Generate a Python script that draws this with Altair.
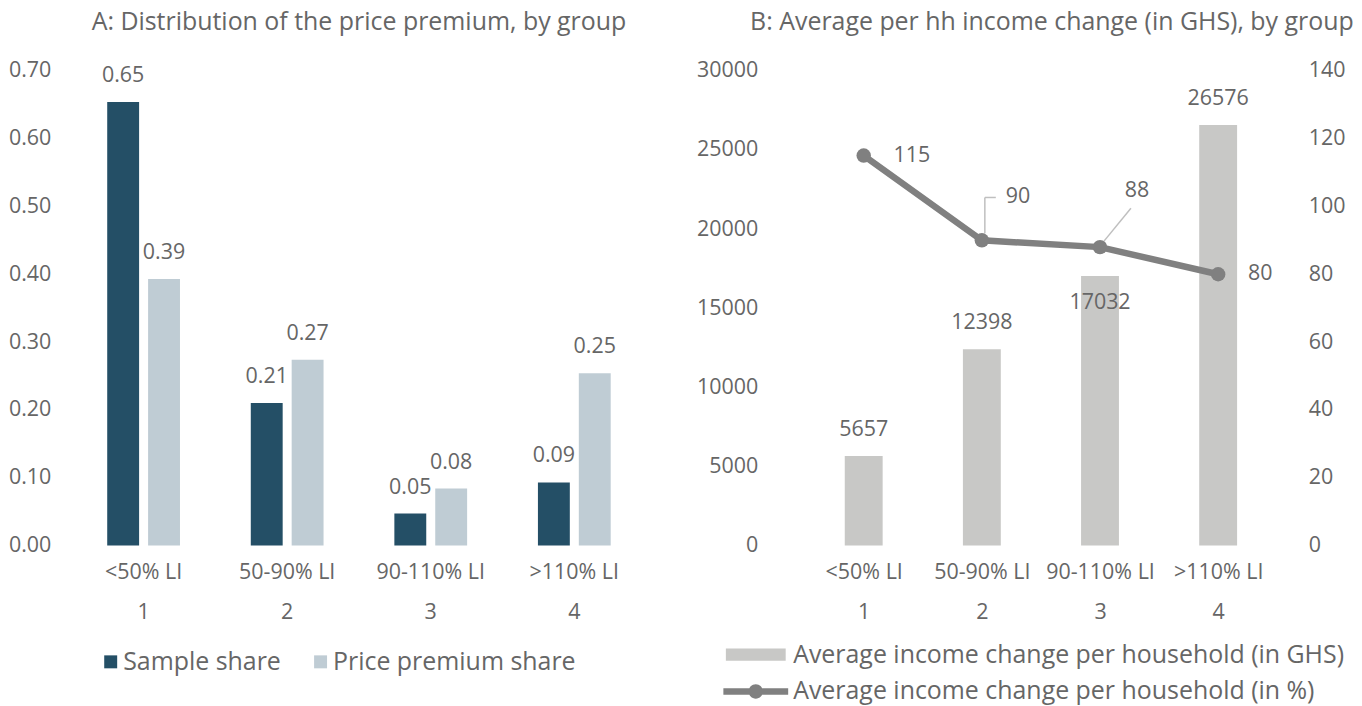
import altair as alt
import pandas as pd

FONT = "Open Sans"
TEXT = "#666666"
DARK = "#244F66"
LIGHT = "#BFCCD4"
BAR_GRAY = "#C8C8C6"
LINE_GRAY = "#808080"
FS = 21.5

# ---------------- data ----------------
groups = ["1", "2", "3", "4"]
group_nums = [1, 2, 3, 4]
group_names = ["<50% LI", "50-90% LI", "90-110% LI", ">110% LI"]

series_a = ["Sample share", "Price premium share"]
sample_share = [0.654, 0.210, 0.047, 0.093]
premium_share = [0.393, 0.274, 0.084, 0.254]

series_b = ["Average income change per household (in GHS)",
            "Average income change per household (in %)"]
income_ghs = [5657, 12398, 17032, 26576]
income_pct = [115, 90, 88, 80]

ticks_a = [0, 0.1, 0.2, 0.3, 0.4, 0.5, 0.6, 0.7]
ticks_b_left = [0, 5000, 10000, 15000, 20000, 25000, 30000]
ticks_b_right = [0, 20, 40, 60, 80, 100, 120, 140]

title_a = "A: Distribution of the price premium, by group"
title_b = "B: Average per hh income change (in GHS), by group"

df_a = pd.DataFrame({
    "group": groups * 2,
    "series": [series_a[0]] * 4 + [series_a[1]] * 4,
    "value": sample_share + premium_share,
})
df_bar = pd.DataFrame({"x": group_nums, "ghs": income_ghs, "series": series_b[0]})
df_line = pd.DataFrame({"x": group_nums, "pct": income_pct, "series": series_b[1]})

label_expr = " : ".join(
    f"datum.label == '{g}' ? ['{n}', '{g}']" for g, n in zip(groups, group_names)
) + " : datum.label"

square_path = "M-1.625,-1.625L1.625,-1.625L1.625,1.625L-1.625,1.625Z"
rect_path = "M-3,-0.62L3,-0.62L3,0.62L-3,0.62Z"
line_path = ("M-3.25,-0.32L3.25,-0.32L3.25,0.32L-3.25,0.32Z "
             "M0.72,0A0.72,0.72 0 1,1 -0.72,0A0.72,0.72 0 1,1 0.72,0Z")

# ---------------- panel A ----------------
xA = alt.X("group:N", sort=groups, scale=alt.Scale(paddingInner=0, paddingOuter=0),
           axis=alt.Axis(title=None, labelExpr=label_expr, labelAngle=0, labelPadding=16,
                         labelLineHeight=40, labelBaseline="top"))
xoffA = alt.XOffset("series:N", sort=series_a,
                    scale=alt.Scale(paddingInner=0.22, paddingOuter=0.866))
yA = alt.Y("value:Q", scale=alt.Scale(domain=[0, 0.7], nice=False),
           axis=alt.Axis(title=None, values=ticks_a, format=".2f", labelPadding=21))
colorA = alt.Color("series:N", sort=series_a,
                   scale=alt.Scale(domain=series_a, range=[DARK, LIGHT]),
                   legend=alt.Legend(title=None, orient="none", legendX=26.5, legendY=580,
                                     direction="horizontal", columns=2,
                                     symbolType=square_path, symbolSize=64,
                                     symbolStrokeWidth=0, labelOffset=0,
                                     columnPadding=26.5))

barsA = alt.Chart(df_a).mark_bar().encode(x=xA, xOffset=xoffA, y=yA, color=colorA)
textA = alt.Chart(df_a).mark_text(baseline="middle", dy=-26, fontSize=FS, font=FONT,
                                  color=TEXT).encode(
    x=xA, xOffset=xoffA, y=yA, text=alt.Text("value:Q", format=".2f"))

panelA = alt.layer(barsA, textA).properties(
    width=576, height=476,
    title=alt.TitleParams(title_a, frame="group", anchor="middle", offset=25))

# ---------------- panel B ----------------
xB = alt.X("x:Q", scale=alt.Scale(domain=[0.5, 4.5], nice=False, zero=False),
           axis=alt.Axis(title=None, values=group_nums, format="d", labelExpr=label_expr,
                         labelAngle=0, labelPadding=16, labelLineHeight=40,
                         labelBaseline="top"))
yBar = alt.Y("ghs:Q", scale=alt.Scale(domain=[0, 30000], nice=False),
             axis=alt.Axis(title=None, values=ticks_b_left, format="d", labelPadding=42,
                           orient="left"))
yLine = alt.Y("pct:Q", scale=alt.Scale(domain=[0, 140], nice=False),
              axis=alt.Axis(title=None, values=ticks_b_right, format="d", labelPadding=26,
                            orient="right"))

barsB = alt.Chart(df_bar).mark_bar(width=38).encode(
    x=xB, y=yBar,
    color=alt.Color("series:N", scale=alt.Scale(domain=[series_b[0]], range=[BAR_GRAY]),
                    legend=alt.Legend(title=None, orient="none", legendX=-56.5, legendY=573,
                                      symbolType=rect_path, symbolSize=400,
                                      symbolStrokeWidth=0, labelOffset=25)))
bar_lbl_above = alt.Chart(df_bar).transform_filter("datum.x != 3").mark_text(
    baseline="middle", dy=-26, fontSize=FS, font=FONT, color=TEXT).encode(
    x=xB, y=yBar, text=alt.Text("ghs:Q", format="d"))
bar_lbl_inside = alt.Chart(df_bar).transform_filter("datum.x == 3").mark_text(
    baseline="middle", dy=27, fontSize=FS, font=FONT, color=TEXT).encode(
    x=xB, y=yBar, text=alt.Text("ghs:Q", format="d"))

line = alt.Chart(df_line).mark_line(color=LINE_GRAY, strokeWidth=6.5).encode(x=xB, y=yLine)
points = alt.Chart(df_line).mark_circle(size=210, opacity=1).encode(
    x=xB, y=yLine,
    fill=alt.Fill("series:N", scale=alt.Scale(domain=[series_b[1]], range=[LINE_GRAY]),
                  legend=alt.Legend(title=None, orient="none", legendX=-56.5, legendY=610,
                                    symbolType=line_path, symbolSize=400,
                                    symbolStrokeWidth=0, labelOffset=25)))
lbl_side = alt.Chart(df_line).transform_filter("datum.x == 1 || datum.x == 4").mark_text(
    align="left", baseline="middle", dx=30, fontSize=FS, font=FONT, color=TEXT).encode(
    x=xB, y=yLine, text=alt.Text("pct:Q", format="d"))
lbl_90 = alt.Chart(df_line).transform_filter("datum.x == 2").mark_text(
    align="left", baseline="middle", dx=24, dy=-43, fontSize=FS, font=FONT,
    color=TEXT).encode(x=xB, y=yLine, text=alt.Text("pct:Q", format="d"))
lbl_88 = alt.Chart(df_line).transform_filter("datum.x == 3").mark_text(
    align="center", baseline="middle", dx=37, dy=-56, fontSize=FS, font=FONT,
    color=TEXT).encode(x=xB, y=yLine, text=alt.Text("pct:Q", format="d"))

lead_90_v = alt.Chart(df_line).transform_filter("datum.x == 2").mark_rule(
    color="#BFBFBF", strokeWidth=1.5, xOffset=3, yOffset=-7, y2Offset=-43).encode(
    x=xB, y=yLine, y2=alt.Y2("pct:Q"))
lead_90_h = alt.Chart(df_line).transform_filter("datum.x == 2").mark_rule(
    color="#BFBFBF", strokeWidth=1.5, xOffset=3, x2Offset=14, yOffset=-43).encode(
    x=xB, x2=alt.X2("x:Q"), y=yLine)
lead_88 = alt.Chart(df_line).transform_filter("datum.x == 3").mark_rule(
    color="#BFBFBF", strokeWidth=1.5, xOffset=4, x2Offset=31, yOffset=-6,
    y2Offset=-39).encode(x=xB, x2=alt.X2("x:Q"), y=yLine, y2=alt.Y2("pct:Q"))

bar_group = alt.layer(barsB, bar_lbl_above, bar_lbl_inside)
line_group = alt.layer(lead_90_v, lead_90_h, lead_88, line, points, lbl_side, lbl_90, lbl_88)

panelB = alt.layer(bar_group, line_group).resolve_scale(y="independent").properties(
    width=484, height=476,
    title=alt.TitleParams(title_b, frame="group", anchor="middle", offset=25, dx=11))

chart = alt.hconcat(panelA, panelB, spacing=50).resolve_scale(
    color="independent", fill="independent", x="independent", y="independent"
).properties(
    padding={"top": 1, "left": 0, "right": 0, "bottom": 0}
).configure_view(stroke=None).configure_axis(
    grid=False, domain=False, ticks=False, tickSize=0, labelFont=FONT,
    labelFontSize=FS, labelColor=TEXT
).configure_legend(
    labelFont=FONT, labelFontSize=25, labelColor=TEXT, labelLimit=0, padding=0
).configure_title(
    font=FONT, fontSize=25, color=TEXT, fontWeight="normal"
)

chart.save("out.html", embed_options={"renderer": "svg", "actions": False})
